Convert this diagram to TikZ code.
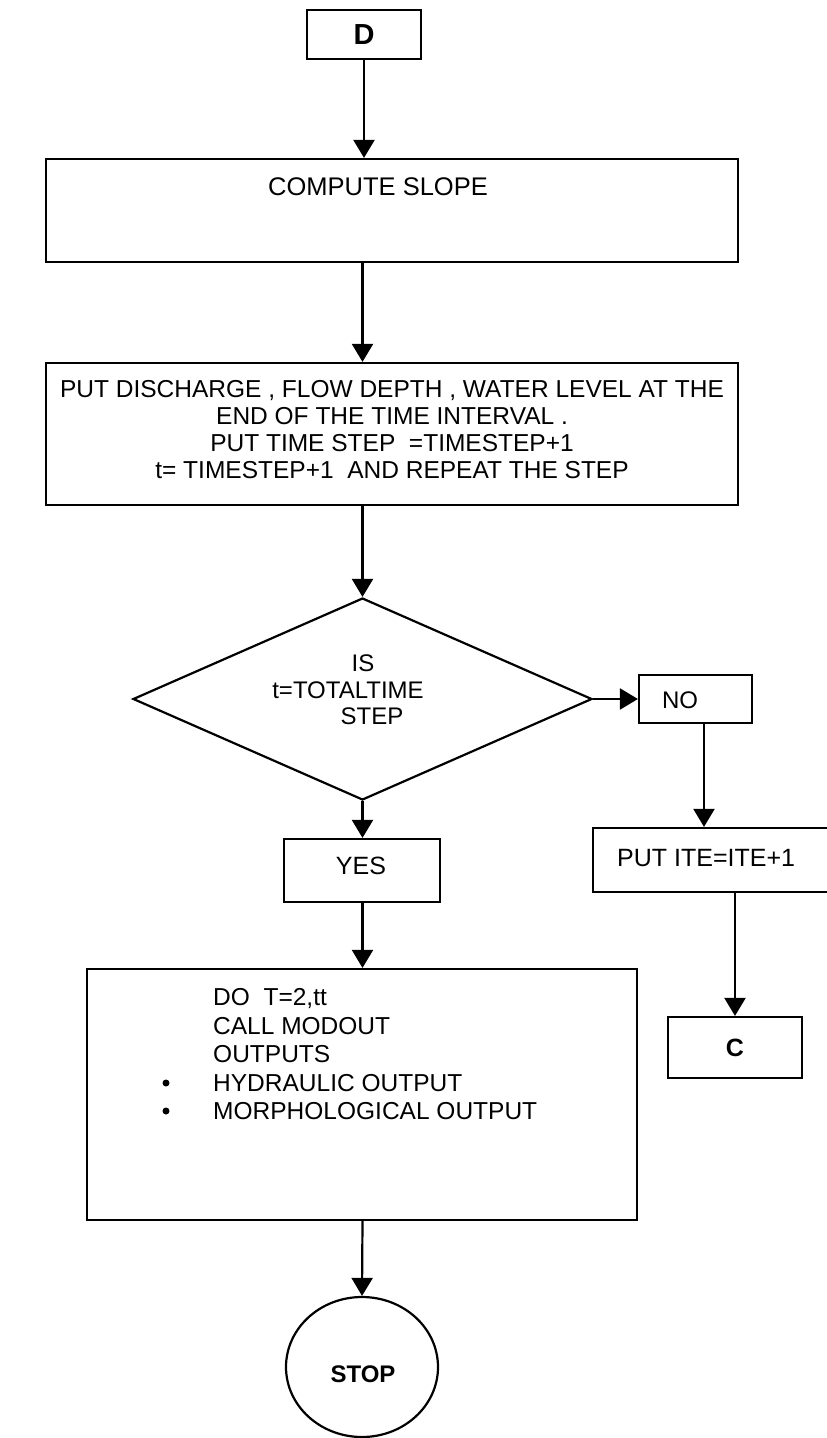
\documentclass[tikz,border=0pt]{standalone}
\usepackage{fontspec}
\setmainfont{Liberation Sans}
\usetikzlibrary{arrows.meta,shapes.geometric}

\begin{document}
\begin{tikzpicture}[x=1pt,y=-1pt,
  box/.style={draw, line width=2.2pt, inner sep=0pt},
  flow/.style={-{Triangle[width=21pt,length=18pt]}, line width=2.2pt},
  txt/.style={inner sep=0pt, font=\fontsize{24.5}{27}\selectfont},
  btxt/.style={inner sep=0pt, font=\bfseries\fontsize{25}{25}\selectfont},
  dot/.style={circle, fill, inner sep=0pt, minimum size=7pt},
]
\useasboundingbox (0,0) rectangle (827,1438);

% main column
\node[box, minimum width=114pt, minimum height=49pt] (D) at (364,34.5) {};
\node[btxt, font=\bfseries\fontsize{29}{29}\selectfont] (Dt) at (D) {D};

\node[box, minimum width=692pt, minimum height=103pt] (slope) at (392,210.5) {};
\node[txt, font=\fontsize{25.5}{28}\selectfont] (slopet) at (378,187) {COMPUTE SLOPE};

\node[box, minimum width=692pt, minimum height=142pt] (put) at (392,434) {};
\node[txt, align=center, anchor=north] (putt) at (392,380) {PUT DISCHARGE , FLOW DEPTH , WATER LEVEL AT THE\\
END OF THE TIME INTERVAL .\\
PUT TIME STEP\ \ =TIMESTEP+1\\
t= TIMESTEP+1\ \ AND REPEAT THE STEP};

% decision
\node[draw, diamond, line width=2.2pt, inner sep=0pt, minimum width=459pt, minimum height=202pt] (dec) at (362.5,699) {};
\node[txt, font=\fontsize{24}{24}\selectfont] (is) at (363,663) {IS};
\node[txt, font=\fontsize{24}{24}\selectfont] (tt) at (348,690) {t=TOTALTIME};
\node[txt, font=\fontsize{24}{24}\selectfont] (st) at (372,716) {STEP};

% branch boxes
\node[box, minimum width=113pt, minimum height=48pt] (no) at (695.5,699) {};
\node[txt, font=\fontsize{24}{24}\selectfont] (not) at (680,700) {NO};

\node[box, minimum width=156pt, minimum height=63pt] (yes) at (362,870.5) {};
\node[txt, font=\fontsize{25}{25}\selectfont] (yest) at (361,866) {YES};

\node[box, minimum width=242pt, minimum height=64pt] (ite) at (714,860) {};
\node[txt, anchor=west, font=\fontsize{25}{25}\selectfont] (itet) at (617,858) {PUT ITE=ITE+1};

\node[box, minimum width=134pt, minimum height=61pt] (C) at (735,1047.5) {};
\node[btxt] (Ct) at (C) {C};

% output box
\node[box, minimum width=550pt, minimum height=251pt] (out) at (362,1094.5) {};
\node[txt, anchor=west] (o1) at (213,998) {DO\ \ T=2,tt};
\node[txt, anchor=west] (o2) at (213,1026) {CALL MODOUT};
\node[txt, anchor=west] (o3) at (213,1054) {OUTPUTS};
\node[txt, anchor=west] (o4) at (213,1083) {HYDRAULIC OUTPUT};
\node[txt, anchor=west] (o5) at (213,1111) {MORPHOLOGICAL OUTPUT};
\node[dot] (b1) at (166,1083) {};
\node[dot] (b2) at (166,1111) {};

% terminal
\node[draw, ellipse, line width=2.2pt, inner sep=0pt, minimum width=152pt, minimum height=140pt] (stop) at (362,1367) {};
\node[btxt, font=\bfseries\fontsize{24}{24}\selectfont] (stopt) at (363,1374) {STOP};

% connectors
\draw[flow] (D.south) -- (D.south |- slope.north);
\draw[flow] (dec.north |- slope.south) -- (dec.north |- put.north);
\draw[flow] (dec.north |- put.south) -- (dec.north);
\draw[flow] (dec.east) -- (no.west |- dec.east);
\draw[flow] (dec.south) -- (dec.south |- yes.north);
\coordinate (rx) at (704,0);
\draw[flow] (no.south -| rx) -- (rx |- ite.north);
\draw[flow] (C.north |- ite.south) -- (C.north);
\draw[flow] (dec.south |- yes.south) -- (dec.south |- out.north);
\draw[flow] (dec.south |- out.south) -- (stop.north);
\end{tikzpicture}
\end{document}
